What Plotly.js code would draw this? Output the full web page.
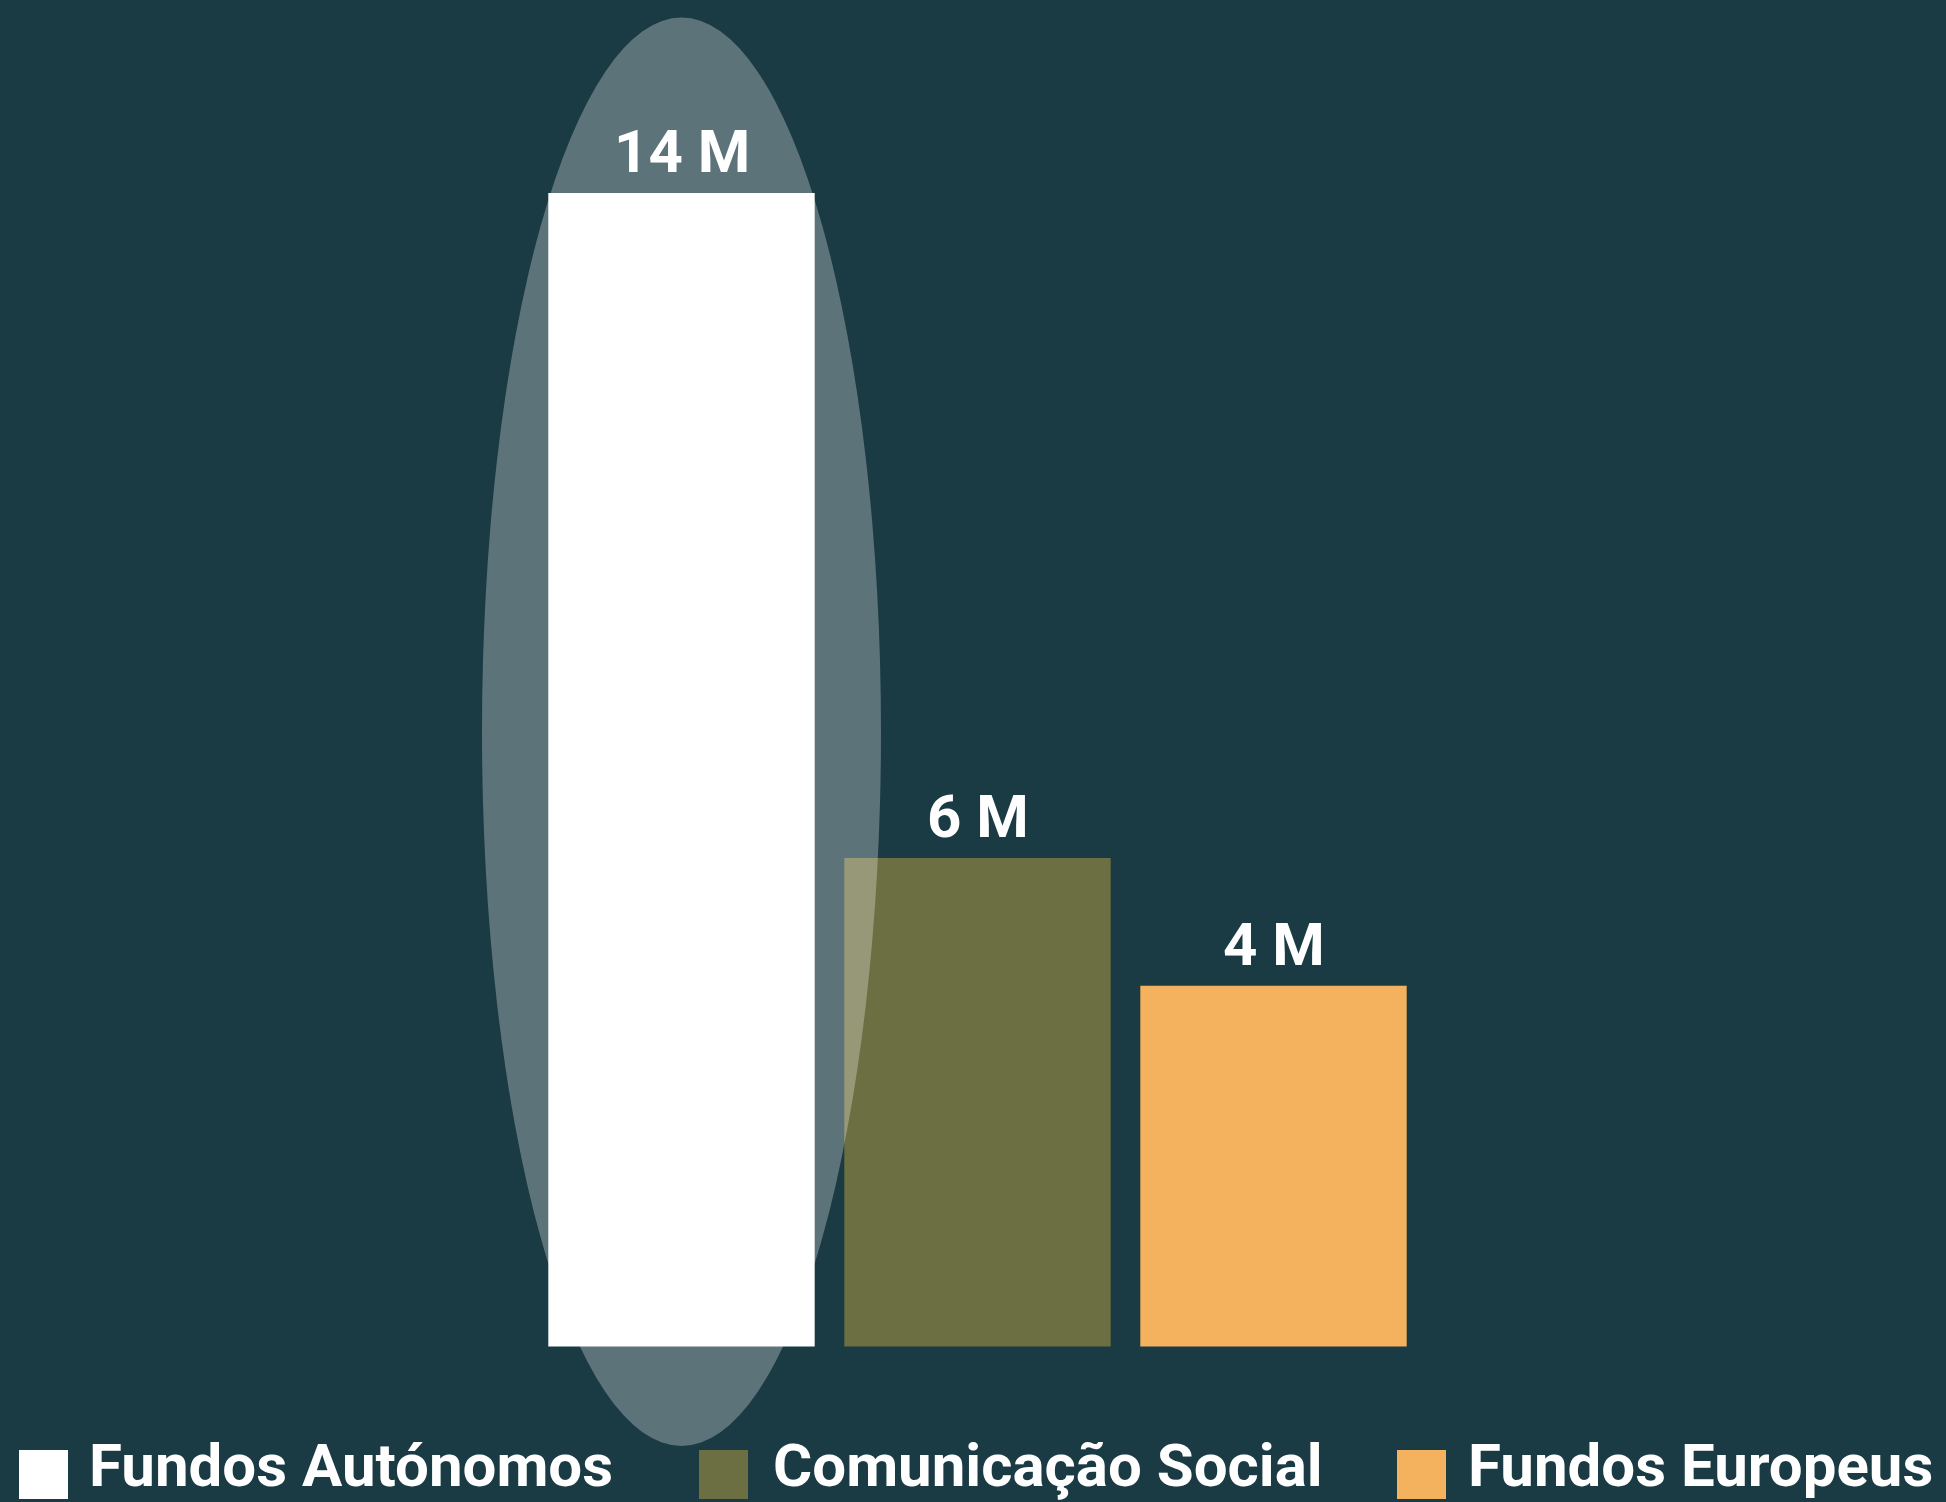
<!DOCTYPE html>
<html>
<head>
<meta charset="utf-8">
<script src="https://cdn.plot.ly/plotly-3.0.1.min.js"></script>
<style>
  html, body { margin: 0; padding: 0; background: #1a3a44; }
  #chart { width: 1946px; height: 1502px; }
</style>
</head>
<body>
<div id="chart"></div>
<script>
// ---- data ----
const categories = ["Fundos Autónomos", "Comunicação Social", "Fundos Europeus"];
const values = [14, 5.93, 4.38];          // millions
const valueLabels = ["14 M", "6 M", "4 M"];
const barColors = ["#ffffff", "#6b6f42", "#f4b25f"];

// ---- layout geometry ----
const W = 1946, H = 1502;
const M = { l: 0, r: 0, t: 10, b: 12 };
const plotW = W - M.l - M.r, plotH = H - M.t - M.b;
const PX_PER_CAT = 296, FIRST_CENTER_PX = 681.5;
const xRange = [(M.l - FIRST_CENTER_PX) / PX_PER_CAT, (W - M.r - FIRST_CENTER_PX) / PX_PER_CAT];
const yRange = [-1.742, 16.222];
const FONT = 'Roboto, "DejaVu Sans Condensed", sans-serif';
const BG = "#1a3a44";

function pxX(px) { return (px - M.l) / plotW; }
function pxY(py) { return (H - M.b - py) / plotH; }

const trace = {
  type: "bar",
  x: categories,
  y: values,
  width: 0.9,
  marker: { color: barColors, line: { width: 0 } },
  hoverinfo: "skip",
  showlegend: false
};

const shapes = [
  // highlight ellipse around the first bar
  { type: "circle", xref: "x", yref: "y", x0: -0.674, x1: 0.674, y0: -1.208, y1: 16.13,
    fillcolor: "rgba(255,255,255,0.29)", line: { width: 0 }, layer: "above" }
];

const annotations = categories.map((c, i) => ({
  xref: "x", yref: "y", x: c, y: values[i],
  text: "<b>" + valueLabels[i] + "</b>",
  showarrow: false, yanchor: "bottom", yshift: 4,
  font: { family: FONT, size: 60, color: "#ffffff" }
}));

// custom legend (large square swatches)
const legendSquareX = [19, 699, 1397];
const legendTextX = [87, 771, 1466];
const sq = 49, sqTop = 1450, textMid = 1465;
categories.forEach((c, i) => {
  shapes.push({
    type: "rect", xref: "paper", yref: "paper",
    x0: pxX(legendSquareX[i]), x1: pxX(legendSquareX[i] + sq),
    y0: pxY(sqTop + sq), y1: pxY(sqTop),
    fillcolor: barColors[i], line: { width: 0 }, layer: "above"
  });
  annotations.push({
    xref: "paper", yref: "paper", x: pxX(legendTextX[i]), y: pxY(textMid),
    xanchor: "left", yanchor: "middle", showarrow: false,
    text: "<b>" + c + "</b>",
    font: { family: FONT, size: 60, color: "#ffffff" }
  });
});

const layout = {
  width: W, height: H,
  margin: M,
  paper_bgcolor: BG, plot_bgcolor: BG,
  showlegend: false,
  xaxis: { visible: false, range: xRange, fixedrange: true },
  yaxis: { visible: false, range: yRange, fixedrange: true },
  shapes: shapes,
  annotations: annotations
};

Plotly.newPlot("chart", [trace], layout, { displayModeBar: false, staticPlot: true });
</script>
</body>
</html>
